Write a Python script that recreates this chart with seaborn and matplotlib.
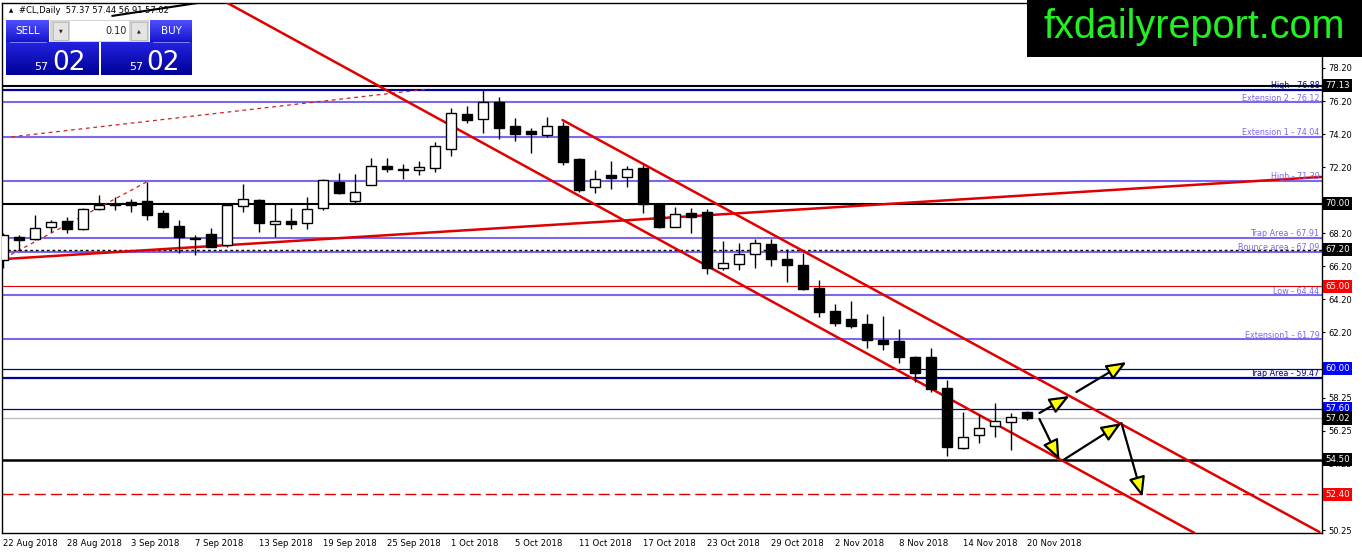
import numpy as np
import matplotlib
matplotlib.use("Agg")
import matplotlib.pyplot as plt
import matplotlib.transforms as mtrans
from matplotlib.patches import Rectangle
import seaborn as sns

# ---------------- data ----------------
date_labels = ["22 Aug 2018", "28 Aug 2018", "3 Sep 2018", "7 Sep 2018", "13 Sep 2018",
               "19 Sep 2018", "25 Sep 2018", "1 Oct 2018", "5 Oct 2018", "11 Oct 2018",
               "17 Oct 2018", "23 Oct 2018", "29 Oct 2018", "2 Nov 2018", "8 Nov 2018",
               "14 Nov 2018", "20 Nov 2018"]
label_bars = list(range(0, 65, 4))

opens = [66.6, 68.0, 67.85, 68.58, 68.94, 68.46, 69.67, 70.0, 70.1, 70.15,
         69.43, 68.64, 67.9, 68.15, 67.5, 69.85, 70.2, 68.75, 68.95, 68.82,
         69.7, 71.3, 70.15, 71.12, 72.27, 72.1, 72.05, 72.15, 73.3, 75.42,
         75.1, 76.15, 74.7, 74.4, 74.15, 74.7, 72.7, 71.0, 71.7, 71.6,
         72.15, 69.97, 68.58, 69.4, 69.48, 66.1, 66.34, 66.95, 67.55, 66.64,
         66.28, 64.9, 63.5, 63.0, 62.7, 61.75, 61.7, 60.72, 60.72, 58.84,
         55.21, 56.0, 56.54, 56.78, 57.37]
highs = [68.2, 68.1, 69.3, 69.0, 69.2, 69.73, 70.5, 70.4, 70.3, 71.3,
         69.6, 69.0, 68.1, 68.5, 69.95, 71.2, 70.25, 70.0, 69.75, 70.4,
         71.5, 71.85, 71.8, 72.76, 72.75, 72.4, 72.6, 73.7, 75.8, 75.9,
         76.87, 76.45, 75.2, 74.57, 75.25, 74.93, 72.75, 72.0, 72.6, 72.27,
         72.33, 70.0, 69.8, 69.7, 69.67, 67.73, 67.6, 67.85, 67.85, 67.25,
         67.0, 65.38, 63.92, 64.1, 63.3, 63.2, 62.4, 60.78, 61.26, 59.33,
         57.4, 57.2, 57.93, 57.33, 57.44]
lows = [66.1, 67.2, 67.8, 68.3, 68.2, 68.4, 69.6, 69.6, 69.5, 69.0,
        68.5, 67.0, 66.9, 67.35, 67.35, 69.5, 68.3, 68.0, 68.45, 68.45,
        69.6, 70.6, 70.03, 71.1, 71.9, 71.5, 71.75, 71.9, 72.88, 74.87,
        74.27, 73.9, 73.8, 73.05, 74.03, 72.33, 70.7, 70.64, 70.9, 71.0,
        69.4, 68.5, 68.55, 68.2, 65.74, 65.98, 65.98, 66.1, 66.2, 65.25,
        64.77, 63.14, 62.6, 62.47, 61.26, 61.14, 60.35, 59.2, 58.6, 54.73,
        55.15, 55.5, 55.88, 55.09, 56.91]
closes = [68.1, 67.8, 68.5, 68.88, 68.46, 69.67, 69.9, 69.9, 69.9, 69.3,
          68.58, 67.98, 67.85, 67.4, 69.9, 70.3, 68.8, 68.95, 68.75, 69.67,
          71.4, 70.65, 70.7, 72.27, 72.09, 72.05, 72.2, 73.48, 75.48, 75.05,
          76.15, 74.57, 74.2, 74.2, 74.7, 72.5, 70.82, 71.49, 71.55, 72.1,
          70.0, 68.58, 69.37, 69.2, 66.1, 66.4, 66.95, 67.6, 66.64, 66.28,
          64.83, 63.44, 62.77, 62.6, 61.75, 61.5, 60.7, 59.75, 58.78, 55.27,
          55.88, 56.42, 56.84, 57.09, 57.02]

# named fib / support levels (label text drawn next to them)
level_values = [76.88, 76.12, 74.04, 71.39, 67.91, 67.09, 64.44, 61.79, 59.47]
level_names = ["High", "Extension 2", "Extension 1", "High", "Trap Area",
               "Bounce area", "Low", "Extension1", "Trap Area"]
level_is_navy = [True, False, False, False, False, False, False, False, True]

# price lines with a marker box on the price scale
marker_values = [77.13, 70.00, 67.20, 65.00, 60.00, 57.60, 57.02, 54.50, 52.40]
marker_box_colors = ["#000000", "#000000", "#000000", "#ff0000", "#0000ff",
                     "#0000ff", "#000000", "#000000", "#ff0000"]

ytick_values = [78.20, 76.20, 74.20, 72.20, 70.20, 68.20, 66.20, 64.20, 62.20,
                60.20, 58.25, 56.25, 54.25, 52.25, 50.25]
ytick_hidden = [70.20, 60.20]   # fully covered by price boxes in the terminal

# trend lines (bar index, price) anchor points
channel_lower_bars = [14.0, 74.44]
channel_lower_prices = [82.13, 50.07]
channel_upper_bars = [34.94, 82.25]
channel_upper_prices = [75.05, 50.13]
support_bars = [0.0, 82.4]
support_prices = [66.64, 71.61]
dash_a_bars = [0.06, 8.94]
dash_a_prices = [66.7, 71.3]
dash_b_bars = [0.5, 26.6]
dash_b_prices = [74.03, 76.93]
black_trend_bars = [6.8, 12.6]
black_trend_prices = [81.35, 82.2]

# scenario arrows (start bar, start price, end bar, end price)
arrow_x0 = [64.75, 67.06, 64.75, 66.25, 69.875]
arrow_y0 = [57.33, 58.60, 56.97, 54.49, 56.72]
arrow_x1 = [66.625, 70.19, 66.0, 69.875, 71.19]
arrow_y1 = [58.36, 60.41, 54.49, 56.72, 52.25]

# ---------------- style ----------------
sns.set_style("white")
plt.rcParams["font.family"] = ["DejaVu Sans"]

W, H = 1362, 554
fig = plt.figure(figsize=(W / 100, H / 100), dpi=100)
fig.patch.set_facecolor("white")
ax = fig.add_axes([2 / W, 21 / H, 1320 / W, 530 / H])
ax.set_facecolor("white")

PURPLE = "#7b68ee"
NAVY = "#00009c"
RED = "#e00000"

# ---- horizontal lines ----
for v, navy in zip(level_values, level_is_navy):
    ax.axhline(v, color=NAVY if navy else PURPLE, lw=1.6 if navy else 1.5, zorder=1)

marker_styles = {
    77.13: dict(color="black", lw=1.5, ls="-"),
    70.00: dict(color="black", lw=1.5, ls="-"),
    67.20: dict(color="black", lw=1.0, ls=(0, (2, 2))),
    65.00: dict(color=RED, lw=0.8, ls="-"),
    60.00: dict(color=NAVY, lw=0.9, ls="-"),
    57.60: dict(color=NAVY, lw=0.9, ls="-"),
    57.02: dict(color="#c0c0c0", lw=1.0, ls="-"),
    54.50: dict(color="black", lw=1.8, ls="-"),
    52.40: dict(color=RED, lw=1.0, ls=(0, (8, 3.6))),
}
for v in marker_values:
    st = marker_styles[v]
    ax.axhline(v, color=st["color"], lw=st["lw"], linestyle=st["ls"], zorder=1.2)

# ---- trend lines (seaborn) ----
sns.lineplot(x=channel_lower_bars, y=channel_lower_prices, ax=ax, color=RED, lw=1.8, zorder=3)
sns.lineplot(x=channel_upper_bars, y=channel_upper_prices, ax=ax, color=RED, lw=1.8, zorder=3)
sns.lineplot(x=support_bars, y=support_prices, ax=ax, color=RED, lw=1.8, zorder=1.5)
sns.lineplot(x=dash_a_bars, y=dash_a_prices, ax=ax, color="#d02020", lw=0.9,
             linestyle=(0, (3, 3)), zorder=1.5)
sns.lineplot(x=dash_b_bars, y=dash_b_prices, ax=ax, color="#d02020", lw=0.9,
             linestyle=(0, (3, 3)), zorder=1.5)
sns.lineplot(x=black_trend_bars, y=black_trend_prices, ax=ax, color="black", lw=1.5, zorder=3)

# ---- candles ----
bars = np.arange(len(opens))
o = np.array(opens); h = np.array(highs); l = np.array(lows); c = np.array(closes)
ax.vlines(bars, l, h, color="black", lw=1.0, zorder=4)
bottoms = np.minimum(o, c)
heights = np.abs(c - o)
fc = ["black" if cc < oo else "white" for oo, cc in zip(o, c)]
ax.bar(bars, heights, bottom=bottoms, width=0.62, color=fc, edgecolor="black",
       linewidth=1.0, zorder=5)

# ---- arrows ----
for x0, y0, x1, y1 in zip(arrow_x0, arrow_y0, arrow_x1, arrow_y1):
    ax.annotate("", xy=(x1, y1), xytext=(x0, y0),
                arrowprops=dict(arrowstyle="-|>,head_length=1.1,head_width=0.45",
                                fc="#ffff00", ec="black", lw=1.6,
                                mutation_scale=11, shrinkA=0, shrinkB=0),
                zorder=6)

# ---- level labels ----
lab_tr = mtrans.offset_copy(ax.transData, fig=fig, x=0, y=1.2, units="points")
for v, name, navy in zip(level_values, level_names, level_is_navy):
    ax.text(82.25, v, f"{name} - {v:.2f}", transform=lab_tr, ha="right", va="baseline",
            fontsize=5.8, color="#000080" if navy else PURPLE, zorder=7)

# ---- axes / ticks ----
ax.set_xlim(-0.09, 82.41)
ax.set_ylim(50.07, 82.13)
ax.set_xlabel("")
ax.set_ylabel("")
ax.yaxis.tick_right()
ax.set_yticks(ytick_values)
ax.set_yticklabels(["" if t in ytick_hidden else f"{t:.2f}" for t in ytick_values])
ax.set_xticks(label_bars)
ax.set_xticklabels(date_labels, ha="left")
ax.tick_params(axis="y", length=2.5, width=0.8, labelsize=6, pad=2, colors="black")
ax.tick_params(axis="x", length=2.5, width=0.8, labelsize=6.1, pad=2, colors="black")
for s in ax.spines.values():
    s.set_color("black")
    s.set_linewidth(1.0)
ax.grid(False)

# marker boxes on the price scale
box_tr = mtrans.blended_transform_factory(ax.transAxes, ax.transData)
for v, col in zip(marker_values, marker_box_colors):
    ax.text(1.0025, v, f"{v:.2f}", transform=box_tr, ha="left", va="center",
            fontsize=6.2, color="white", clip_on=False, zorder=20,
            bbox=dict(boxstyle="square,pad=0.25", fc=col, ec="none"))

# ---------------- overlay (terminal UI decorations) ----------------
ov = fig.add_axes([0, 0, 1, 1], zorder=10)
ov.patch.set_alpha(0)
ov.axis("off")


def grad_rect(x0, y0, x1, y1, top, bot):
    g = np.linspace(0, 1, 64)[:, None, None]
    top = np.array(top)[None, None, :] / 255
    bot = np.array(bot)[None, None, :] / 255
    img = top * (1 - g) + bot * g
    ov.imshow(np.repeat(img, 2, axis=1), extent=[x0, x1, y1, y0], aspect="auto",
              interpolation="bilinear", zorder=2)


# watermark
ov.add_patch(Rectangle((1027, 0), 335, 57, fc="black", ec="none", zorder=1))
ov.text(1194, 38, "fxdailyreport.com", color="#22f022", fontsize=28.5,
        family="Liberation Sans", ha="center", va="baseline", zorder=3)

# title
ov.text(9, 10.5, "\u25b2", fontsize=4, ha="left", va="center", color="black", zorder=3)
ov.text(19, 10.5, "#CL,Daily  57.37 57.44 56.91 57.02", fontsize=6, ha="left",
        va="center", color="black", zorder=3)

# one-click trading panel
grad_rect(6, 20, 49, 42, (80, 80, 255), (20, 20, 205))
grad_rect(150, 20, 192, 42, (80, 80, 255), (20, 20, 205))
grad_rect(6, 42, 99, 75, (35, 35, 225), (0, 0, 150))
grad_rect(101, 42, 192, 75, (35, 35, 225), (0, 0, 150))
ov.add_patch(Rectangle((50, 20), 99, 22, fc="#d4d4d4", ec="none", zorder=2))
ov.add_patch(Rectangle((70, 21), 59, 20, fc="white", ec="none", zorder=3))
ov.add_patch(Rectangle((53, 22), 15, 18, fc="#e4e4e4", ec="#b0b0b0", lw=0.5, zorder=3))
ov.add_patch(Rectangle((131, 22), 16, 18, fc="#e4e4e4", ec="#b0b0b0", lw=0.5, zorder=3))
ov.text(60.5, 31, "\u25bc", fontsize=3.5, ha="center", va="center", zorder=4)
ov.text(139, 31, "\u25b2", fontsize=3.5, ha="center", va="center", zorder=4)
ov.text(127, 31, "0.10", fontsize=7, ha="right", va="center", zorder=4)
ov.plot([10, 46], [41.5, 41.5], color="#9090ff", lw=0.6, zorder=4)
ov.plot([153, 189], [41.5, 41.5], color="#9090ff", lw=0.6, zorder=4)
ov.text(27.5, 31, "SELL", fontsize=7.5, color="white", ha="center", va="center", zorder=4)
ov.text(171, 31, "BUY", fontsize=7.5, color="white", ha="center", va="center", zorder=4)
ov.text(41.5, 70, "57", fontsize=8, color="white", ha="center", va="baseline", zorder=4)
ov.text(69, 70, "02", fontsize=19, color="white", ha="center", va="baseline", zorder=4)
ov.text(136, 70, "57", fontsize=8, color="white", ha="center", va="baseline", zorder=4)
ov.text(163.5, 70, "02", fontsize=19, color="white", ha="center", va="baseline", zorder=4)

ov.set_xlim(0, W)
ov.set_ylim(H, 0)

fig.savefig("out.png", dpi=100, facecolor="white")
